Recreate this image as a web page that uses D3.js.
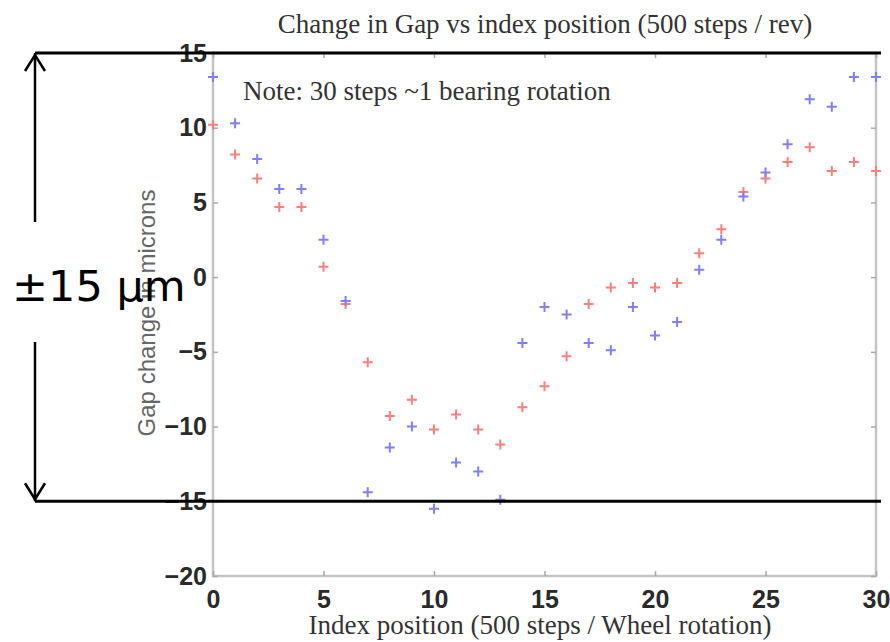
<!DOCTYPE html>
<html>
<head>
<meta charset="utf-8">
<script src="https://cdn.jsdelivr.net/npm/d3@7/dist/d3.min.js"></script>
<style>
  html, body { margin: 0; padding: 0; background: #fff; }
  svg { display: block; }
</style>
</head>
<body>
<svg id="chart" width="890" height="642"></svg>
<script>
const indexPositions = d3.range(0, 31);
const blueSeries = [13.4, 10.3, 7.9, 5.9, 5.9, 2.5, -1.6, -14.4, -11.4, -10.0, -15.5, -12.4, -13.0, -14.9, -4.4, -2.0, -2.5, -4.4, -4.9, -2.0, -3.9, -3.0, 0.5, 2.5, 5.4, 7.0, 8.9, 11.9, 11.4, 13.4, 13.4];
const redSeries  = [10.2, 8.2, 6.6, 4.7, 4.7, 0.7, -1.8, -5.7, -9.3, -8.2, -10.2, -9.2, -10.2, -11.2, -8.7, -7.3, -5.3, -1.8, -0.7, -0.4, -0.7, -0.4, 1.6, 3.2, 5.7, 6.6, 7.7, 8.7, 7.1, 7.7, 7.1];
const xTicks = [0, 5, 10, 15, 20, 25, 30];
const yTicks = [-20, -15, -10, -5, 0, 5, 10, 15];
const rangeBand = [15, -15];

const titleText = "Change in Gap vs index position (500 steps / rev)";
const noteText = "Note: 30 steps ~1 bearing rotation";
const xLabel = "Index position (500 steps / Wheel rotation)";
const yLabel = "Gap change in microns";
const bandLabel = "±15 μm";

const W = 890, H = 642;
const m = { left: 213, right: 14, top: 53, bottom: 66 };
const svg = d3.select("#chart");

const x = d3.scaleLinear().domain([0, 30]).range([m.left, W - m.right]);
const y = d3.scaleLinear().domain([-20, 15]).range([H - m.bottom, m.top]);

const axisColor = "#c4c4c4";
const pw = W - m.right - m.left, ph = H - m.bottom - m.top;
const serif = "'Liberation Serif', 'Times New Roman', serif";
const sans = "'Liberation Sans', Arial, Helvetica, sans-serif";

// box
svg.append("rect").attr("x", m.left).attr("y", m.top).attr("width", pw).attr("height", ph)
  .attr("fill", "none").attr("stroke", axisColor).attr("stroke-width", 2.5);

// axes with inward ticks
const gx = svg.append("g").attr("transform", `translate(0,${H - m.bottom})`)
  .call(d3.axisBottom(x).tickValues(xTicks).tickSize(-5).tickPadding(14).tickFormat(d3.format("d")));
const gxTop = svg.append("g").attr("transform", `translate(0,${m.top})`)
  .call(d3.axisTop(x).tickValues(xTicks).tickSize(-5).tickFormat(""));
const gy = svg.append("g").attr("transform", `translate(${m.left},0)`)
  .call(d3.axisLeft(y).tickValues(yTicks).tickSize(-5).tickPadding(6).tickFormat(d3.format("d")));
const gyR = svg.append("g").attr("transform", `translate(${W - m.right},0)`)
  .call(d3.axisRight(y).tickValues(yTicks).tickSize(-5).tickFormat(""));

[gx, gxTop, gy, gyR].forEach(g => {
  g.select(".domain").remove();
  g.selectAll(".tick line").attr("stroke", "#aaa").attr("stroke-width", 1.5);
  g.selectAll("text").attr("fill", "#2a2a2a").style("font-family", sans)
    .style("font-size", "25px").style("font-weight", "bold");
});
gx.selectAll("text").attr("dy", "0.71em");

// title
svg.append("text").attr("x", 545).attr("y", 33).attr("text-anchor", "middle")
  .style("font-family", serif).style("font-size", "27px")
  .attr("fill", "#333").text(titleText);

// note
svg.append("text").attr("x", 243).attr("y", 100)
  .style("font-family", serif).style("font-size", "27px")
  .attr("fill", "#333").text(noteText);

// x label
svg.append("text").attr("x", 540).attr("y", 634).attr("text-anchor", "middle")
  .style("font-family", serif).style("font-size", "27px")
  .attr("fill", "#333").text(xLabel);

// y label
svg.append("text").attr("transform", "translate(155,313) rotate(-90)").attr("text-anchor", "middle")
  .style("font-family", sans).style("font-size", "24px")
  .attr("fill", "#666").text(yLabel);

// markers
function plus(sel, data, color) {
  const s = 5;
  sel.selectAll(null).data(data).enter().append("path")
    .attr("d", (d, i) => {
      const cx = x(indexPositions[i]), cy = y(d);
      return `M${cx - s},${cy}H${cx + s}M${cx},${cy - s}V${cy + s}`;
    })
    .attr("stroke", color).attr("stroke-width", 2).attr("fill", "none");
}
const gm = svg.append("g");
plus(gm, redSeries, "#ff7f7f");
plus(gm, blueSeries, "#7f7fff");

// ±15 annotation
const ax = 35;
svg.append("g").selectAll("line").data(rangeBand).enter().append("line")
  .attr("x1", ax).attr("x2", 881).attr("y1", d => y(d)).attr("y2", d => y(d))
  .attr("stroke", "#000").attr("stroke-width", 3);
const ann = svg.append("g").attr("stroke", "#000").attr("stroke-width", 2.5).attr("fill", "none");
ann.append("path").attr("d", `M${ax},${y(rangeBand[0])}V${222}`);
ann.append("path").attr("d", `M${ax},${342}V${y(rangeBand[1])}`);
ann.append("path").attr("d", `M${ax - 10},${y(rangeBand[0]) + 18}L${ax},${y(rangeBand[0]) + 2}L${ax + 10},${y(rangeBand[0]) + 18}`);
ann.append("path").attr("d", `M${ax - 10},${y(rangeBand[1]) - 18}L${ax},${y(rangeBand[1]) - 2}L${ax + 10},${y(rangeBand[1]) - 18}`);
svg.append("text").attr("x", 12).attr("y", 301)
  .style("font-family", "'DejaVu Sans', sans-serif").style("font-size", "43px")
  .attr("fill", "#000").text(bandLabel);
</script>
</body>
</html>
